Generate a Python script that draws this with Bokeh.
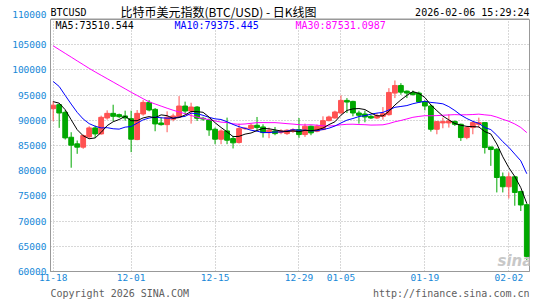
import pandas as pd
from bokeh.plotting import figure
from bokeh.layouts import column
from bokeh.models import ColumnDataSource, Range1d, FixedTicker, Label, BasicTickFormatter
from bokeh.core.properties import value
from bokeh.embed import file_html
from bokeh.resources import INLINE

# ---------------- data ----------------
start_date = "2025-11-18"
opens = [92300, 93100, 91580, 86640, 85330, 84670, 86710, 88490, 87300, 90460,
         91380, 91120, 90860, 90330, 86180, 91250, 93550, 92170, 89470, 89140,
         90200, 90660, 92830, 91840, 92630, 90400, 90070, 88220, 86250, 87890,
         86380, 85590, 88350, 88350, 89010, 88680, 87560, 87890, 87560, 87360,
         87830, 88160, 87170, 88820, 87830, 88160, 89930, 90460, 91450, 93950,
         93750, 91450, 91250, 90790, 90460, 90790, 91120, 95400, 96910, 95790,
         95500, 95400, 93690, 92840, 88220, 89480, 89480, 89740, 89210, 86570,
         88550, 89210, 89540, 84720, 84260, 78790, 76810, 78790, 75880, 73250]
highs = [93800, 93300, 92000, 87630, 85990, 87170, 88820, 88950, 90920, 91970,
         93090, 91320, 91910, 91910, 92040, 94010, 94010, 92430, 90590, 91780,
         91320, 94800, 93700, 93490, 92830, 90700, 90400, 88550, 88220, 90530,
         86910, 89340, 88600, 89340, 90660, 89210, 88550, 88680, 88220, 88220,
         88420, 90460, 89340, 88950, 89140, 90790, 90920, 91910, 94940, 94410,
         93880, 91910, 91910, 91120, 91450, 92630, 96380, 97900, 97370, 95920,
         95900, 95700, 93960, 93170, 89870, 90530, 91190, 90000, 89340, 88880,
         89870, 90530, 89540, 84720, 84460, 79640, 79640, 78980, 76020, 73510]
lows = [89800, 88500, 86180, 80590, 83350, 84340, 86300, 86510, 87170, 90130,
        89800, 90460, 89930, 83680, 86050, 90920, 91780, 87830, 88950, 87630,
        89800, 90530, 91180, 89340, 89870, 89900, 86910, 85260, 85260, 85260,
        84410, 85390, 88100, 88220, 88030, 86580, 86450, 87040, 87230, 87100,
        87500, 86510, 86710, 87040, 87630, 88030, 89800, 90330, 91320, 91450,
        90790, 89340, 89600, 90260, 90260, 90130, 90920, 94410, 95070, 94410,
        94900, 93450, 91980, 87760, 87230, 88420, 88550, 88880, 85910, 86240,
        87230, 88550, 83400, 80960, 75690, 75690, 74500, 73050, 72000, 62290]
closes = [93000, 91450, 86510, 85060, 84670, 86970, 88490, 87300, 90590, 91380,
          90790, 90720, 90460, 86250, 91380, 93550, 92040, 89280, 89140, 90590,
          90860, 92830, 91840, 92630, 90400, 90250, 88090, 86250, 87890, 86050,
          85530, 88350, 88450, 89010, 88550, 87560, 88030, 87360, 87890, 88030,
          88160, 87170, 88820, 87500, 88820, 89930, 90660, 91650, 93950, 93620,
          91450, 90990, 90660, 90460, 90920, 91320, 95530, 96910, 95590, 95400,
          95100, 93650, 92840, 88220, 89740, 89740, 89870, 89210, 86570, 88550,
          89540, 89540, 84590, 84200, 78650, 76810, 78790, 75690, 73200, 63000]

# moving averages at the left edge (earlier closes are not on the chart)
ma5_head = [93700, 93400, 92100, 90100]
ma10_head = [97700, 96710, 94940, 93220, 91580, 90260, 89340, 88820, 88490]
ma30_head = [104770, 104030, 103280, 102540, 101790, 101050, 100300, 99600, 98930, 98260,
             97590, 96920, 96250, 95570, 94930, 94280, 93660, 93240, 92820, 92400,
             92000, 91650, 91300, 90950, 90630, 90380, 90130, 89880, 89630]

x_tick_labels = ["11-18", "12-01", "12-15", "12-29", "01-05", "01-19", "02-02"]
y_ticks = [60000, 65000, 70000, 75000, 80000, 85000, 90000, 95000, 100000, 105000, 110000]
ma_labels = ["MA5:73510.544", "MA10:79375.445", "MA30:87531.0987"]
symbol = "BTCUSD"
title_text = "比特币美元指数(BTC/USD) - 日K线图"
timestamp = "2026-02-06 15:29:24"
copyright_text = "Copyright 2026 SINA.COM"
url_text = "http://finance.sina.com.cn"

# ---------------- derived ----------------
n = len(closes)
dates = pd.date_range(start_date, periods=n, freq="D").strftime("%m-%d").tolist()
idx = list(range(n))
cs = pd.Series(closes, dtype=float)
ma5 = cs.rolling(5).mean().tolist()
ma10 = cs.rolling(10).mean().tolist()
ma30 = cs.rolling(30).mean().tolist()
ma5[:len(ma5_head)] = ma5_head
ma10[:len(ma10_head)] = ma10_head
ma30[:len(ma30_head)] = ma30_head

RED = "#ff5252"
GREEN = "#00a800"
colors = [RED if c >= o else GREEN for o, c in zip(opens, closes)]
src = ColumnDataSource(dict(
    x=idx, o=opens, h=highs, l=lows, c=closes,
    top=[max(o, c) for o, c in zip(opens, closes)],
    bot=[min(o, c) for o, c in zip(opens, closes)],
    color=colors, ma5=ma5, ma10=ma10, ma30=ma30,
))

W = 545
TOP_H, MAIN_H, BOT_H = 19, 265, 16          # page rows: 0-19, 19-284, 284-300
FL, FR = 50, 529                            # frame left/right (px); frames align in the column
FB_MAIN = 252                               # frame bottom inside main canvas
AX_COLOR = "#1688d8"
FRAME_COLOR = "#999999"
MONO = "DejaVu Sans Mono"
CJK = "Noto Sans CJK SC"


def style_axis(ax):
    ax.axis_line_color = FRAME_COLOR
    ax.axis_line_width = 1
    ax.major_tick_line_color = None
    ax.minor_tick_line_color = None
    ax.major_tick_out = 0
    ax.major_tick_in = 0
    ax.major_label_text_color = AX_COLOR
    ax.major_label_text_font = MONO
    ax.major_label_text_font_size = "9.5px"


def strip(height, with_yaxis=False):
    # x in page pixels across the shared frame (FL..FR), y from the strip's top
    f = figure(width=W, height=height, output_backend="svg", toolbar_location=None,
               x_axis_location=None, y_axis_location="left" if with_yaxis else None,
               x_range=Range1d(FL, FR), y_range=Range1d(height, 0),
               min_border_left=FL, min_border_right=W - FR,
               min_border_top=0, min_border_bottom=0)
    f.grid.visible = False
    f.outline_line_color = None
    f.background_fill_color = "white"
    f.border_fill_color = "white"
    return f


def strip_text(f, text, x, y, align="left", baseline="middle", font=MONO,
               size="10px", color="#000000"):
    f.text(x=[x], y=[y], text=[text], text_align=align, text_baseline=baseline,
           text_font=value(font), text_font_size=value(size), text_color=color)


# ---------------- header strip ----------------
top = strip(TOP_H, with_yaxis=True)
TOP_LABEL_Y = 13.5
top.yaxis.ticker = FixedTicker(ticks=[TOP_LABEL_Y])
top.yaxis.major_label_overrides = {TOP_LABEL_Y: str(y_ticks[-1])}
style_axis(top.yaxis[0])
top.yaxis.axis_line_color = None
top.yaxis.major_label_standoff = 4
strip_text(top, symbol, 50, 11.5)
strip_text(top, title_text, 120, 11.0, font=CJK, size="12px")
strip_text(top, timestamp, 529, 11.5, align="right")
top.segment(x0=[FL], y0=[18.5], x1=[FR], y1=[18.5], line_color=FRAME_COLOR, line_width=1)

# ---------------- main chart ----------------
p = figure(width=W, height=MAIN_H, output_backend="svg", toolbar_location=None,
           x_range=Range1d(-0.45, n - 0.55), y_range=Range1d(y_ticks[0], y_ticks[-1]),
           min_border_left=FL, min_border_right=W - FR,
           min_border_top=0, min_border_bottom=MAIN_H - FB_MAIN,
           background_fill_color="white", border_fill_color="white")
p.outline_line_color = FRAME_COLOR
p.outline_line_width = 1

x_ticks = [i for i, d in enumerate(dates) if d in x_tick_labels]
p.xaxis.ticker = FixedTicker(ticks=x_ticks)
p.xaxis.major_label_overrides = {i: dates[i] for i in x_ticks}
p.yaxis.ticker = FixedTicker(ticks=y_ticks)
p.yaxis.formatter = BasicTickFormatter(use_scientific=False)
p.yaxis.major_label_overrides = {y_ticks[-1]: ""}   # shown in the header strip
style_axis(p.xaxis[0])
style_axis(p.yaxis[0])
p.yaxis.major_label_standoff = 4
p.xaxis.major_label_standoff = 2

p.xgrid.ticker = FixedTicker(ticks=x_ticks)
p.ygrid.ticker = FixedTicker(ticks=y_ticks)
for g in (p.xgrid[0], p.ygrid[0]):
    g.grid_line_color = "#b0b0b0"
    g.grid_line_dash = "1 2"
    g.grid_line_width = 1

# candles
p.segment(x0="x", y0="l", x1="x", y1="h", line_color="color", line_width=1, source=src)
p.vbar(x="x", width=0.8, top="top", bottom="bot", fill_color="color",
       line_color="color", line_width=1, source=src)

# moving averages
p.line("x", "ma30", line_color="#ff00ff", line_width=1, source=src)
p.line("x", "ma10", line_color="#0000ff", line_width=1, source=src)
p.line("x", "ma5", line_color="#000000", line_width=1, source=src)

PAGE_FRAME_BOTTOM = TOP_H + FB_MAIN   # 271


def frame_label(text, cx, cy, color, font=MONO, size="10px", style="normal"):
    # cx, cy in page pixels; screen units are relative to the frame's bottom-left
    p.add_layout(Label(x=cx - FL, y=PAGE_FRAME_BOTTOM - cy, x_units="screen",
                       y_units="screen", text=text, text_align="left",
                       text_baseline="middle", text_font=font, text_font_size=size,
                       text_color=color, text_font_style=style))


for lab, col, cx in zip(ma_labels, ["#000000", "#0000ff", "#ff00ff"], [55, 174, 295]):
    frame_label(lab, cx, 24.5, col)
frame_label("sina", 497, 260, "#c8c8c8", font="DejaVu Sans", size="15px",
            style="bold italic")

# ---------------- footer strip ----------------
bot = strip(BOT_H)
strip_text(bot, copyright_text, 50, 8.5, color="#606060")
strip_text(bot, url_text, 529, 8.5, align="right", color="#606060")

layout = column(top, p, bot, spacing=0)
open("out.html", "w").write(file_html(layout, INLINE))
